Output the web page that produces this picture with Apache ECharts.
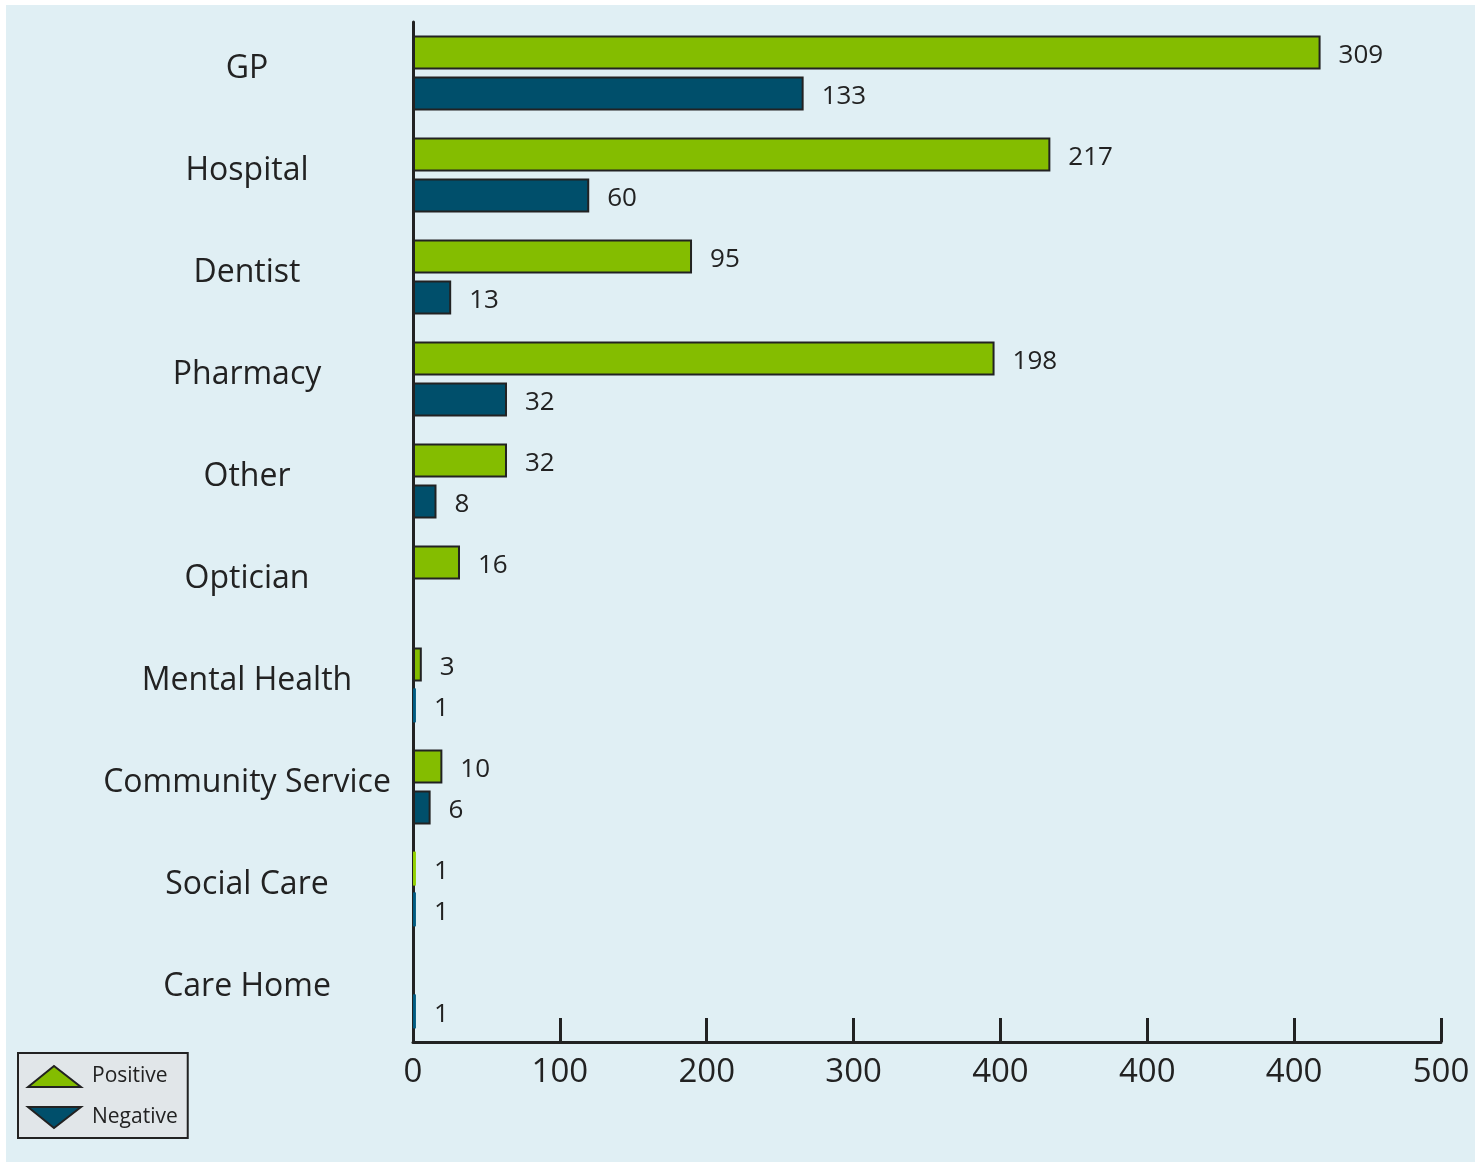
<!DOCTYPE html>
<html>
<head>
<meta charset="utf-8">
<script src="https://cdn.jsdelivr.net/npm/echarts@6/dist/echarts.min.js"></script>
<style>
  html, body { margin: 0; padding: 0; background: #ffffff; }
  #chart { width: 1475px; height: 1163px; }
</style>
</head>
<body>
<div id="chart"></div>
<script>
// Feedback counts by service type
const categories = ['GP', 'Hospital', 'Dentist', 'Pharmacy', 'Other', 'Optician',
  'Mental Health', 'Community Service', 'Social Care', 'Care Home'];
const positive = [309, 217, 95, 198, 32, 16, 3, 10, 1, null];
const negative = [133, 60, 13, 32, 8, null, 1, 6, 1, 1];

// Tick labels printed under the value axis, one per tick
const tickLabels = ['0', '100', '200', '300', '400', '400', '400', '500'];

const GREEN = '#84bd00';
const NAVY = '#004f6b';
const GREEN_THIN = '#92d000';
const NAVY_THIN = '#005a80';
const INK = '#222222';
const FONT = '"Open Sans", "Noto Sans", sans-serif';

// Very short bars are painted as plain slivers without an outline
function toItems(values, thinColor) {
  return values.map(v => {
    if (v == null) return { value: null };
    if (v <= 1) {
      return { value: v, itemStyle: { color: thinColor, borderWidth: 0 } };
    }
    return { value: v };
  });
}

const chart = echarts.init(document.getElementById('chart'), null, { renderer: 'canvas' });

const labelStyle = {
  show: true,
  position: 'right',
  distance: 18,
  offset: [0, 3],
  color: INK,
  fontFamily: FONT,
  fontSize: 26,
  formatter: p => (p.value == null ? '' : String(p.value))
};

chart.setOption({
  backgroundColor: '#ffffff',
  animation: false,
  textStyle: { fontFamily: FONT, color: INK },
  graphic: [{
    type: 'rect',
    z: -10,
    silent: true,
    shape: { x: 6, y: 5, width: 1469, height: 1157 },
    style: { fill: '#e0eff4' }
  }],
  grid: { left: 413, right: 34, top: 22, bottom: 121, containLabel: false },
  legend: {
    orient: 'vertical',
    left: 18,
    top: 1053,
    padding: [12, 10, 9, 9],
    itemWidth: 53,
    itemHeight: 21,
    itemGap: 18,
    backgroundColor: '#e1e6e9',
    borderColor: INK,
    borderWidth: 2,
    borderRadius: 0,
    textStyle: { fontFamily: FONT, fontSize: 21, color: INK, padding: [0, 0, 0, 6] },
    data: [
      { name: 'Positive', icon: 'path://M0,21 L26,0 L53,21 Z',
        itemStyle: { color: GREEN, borderColor: INK, borderWidth: 2 } },
      { name: 'Negative', icon: 'path://M0,0 L53,0 L26,21 Z',
        itemStyle: { color: NAVY, borderColor: INK, borderWidth: 2 } }
    ]
  },
  xAxis: {
    type: 'value',
    min: 0,
    max: 350,
    interval: 50,
    splitLine: { show: false },
    axisLine: { show: true, lineStyle: { color: INK, width: 3 } },
    axisTick: { show: true, inside: true, length: 24, lineStyle: { color: INK, width: 3 } },
    axisLabel: {
      color: INK,
      fontFamily: FONT,
      fontSize: 33,
      margin: 14,
      formatter: v => tickLabels[Math.round(v / 50)] ?? ''
    }
  },
  yAxis: {
    type: 'category',
    inverse: true,
    data: categories,
    axisLine: { show: true, onZero: false, lineStyle: { color: INK, width: 3 } },
    axisTick: { show: false },
    axisLabel: {
      color: INK,
      fontFamily: FONT,
      fontSize: 32,
      align: 'center',
      margin: 166,
      formatter: v => '{c|' + v + '}',
      rich: {
        c: { fontFamily: FONT, fontSize: 32, color: INK, padding: [0, 0, 9, 0] }
      }
    }
  },
  series: [
    {
      name: 'Positive',
      type: 'bar',
      barWidth: 34,
      barGap: '20%',
      data: toItems(positive, GREEN_THIN),
      itemStyle: { color: GREEN, borderColor: INK, borderWidth: 2 },
      label: labelStyle
    },
    {
      name: 'Negative',
      type: 'bar',
      barWidth: 34,
      barGap: '20%',
      data: toItems(negative, NAVY_THIN),
      itemStyle: { color: NAVY, borderColor: INK, borderWidth: 2 },
      label: labelStyle
    }
  ]
});
</script>
</body>
</html>
